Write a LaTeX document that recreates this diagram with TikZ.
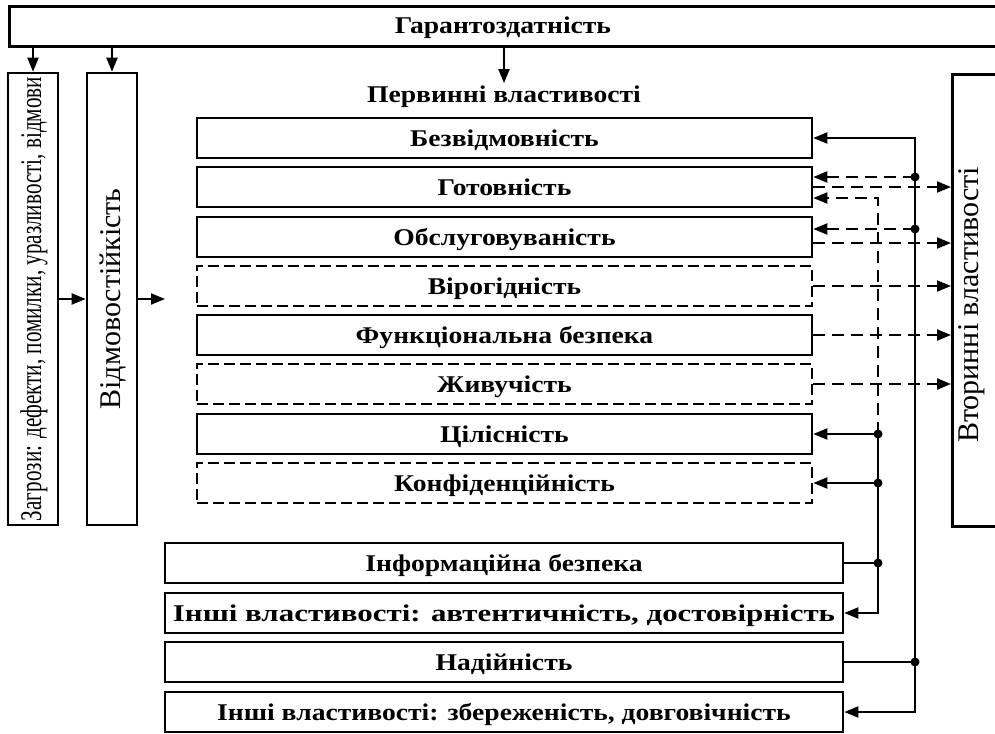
\documentclass[tikz,border=0pt]{standalone}
\usepackage{fontspec}
\usepackage{graphicx}
\setmainfont{Liberation Serif}
\newfontfamily\bt{Liberation Serif}[FakeStretch=1.15]
\usetikzlibrary{arrows.meta,calc}
\begin{document}
\begin{tikzpicture}[x=0.5pt,y=-0.5pt,
  frame/.style={draw,line width=1.3pt,inner sep=0pt},
  box/.style={frame,minimum height=20pt,text height=8.5pt,text depth=-0.5pt,font=\bt\bfseries\fontsize{12pt}{14pt}\selectfont},
  midbox/.style={box,minimum width=307.5pt},
  lowbox/.style={box,minimum width=339pt},
  dbox/.style={dash pattern=on 5.5pt off 2.5pt},
  lbl/.style={font=\bt\bfseries\fontsize{12pt}{14pt}\selectfont,inner sep=1pt,text height=8.5pt,text depth=-0.5pt},
  vlbl/.style={rotate=90,inner sep=0pt,font=\fontsize{15pt}{18pt}\selectfont},
  line/.style={line width=1pt},
  conn/.style={line,-{Triangle[length=7pt,width=5.5pt]}},
  dconn/.style={conn,dash pattern=on 6pt off 3.5pt},
  dot/.style={circle,fill,inner sep=0pt,minimum size=4.5pt}]
\useasboundingbox (0,0) rectangle (995,733);
\clip (0,0) rectangle (995,733);

% top
\node[frame,anchor=north west,minimum width=505pt,minimum height=20pt] (top) at (8,5) {};
\node[lbl] (topt) at (503,25) {Гарантоздатність};

% left boxes
\node[frame,minimum width=25pt,minimum height=226pt] (thr) at (33,299) {};
\node[vlbl] (thrt) at (34,299) {\resizebox{222pt}{\height}{\fontsize{15pt}{18pt}\selectfont Загрози: дефекти, помилки, уразливості, відмови}};
\node[frame,minimum width=25pt,minimum height=226pt] (ft) at (112,299) {};
\node[vlbl] (ftt) at (113,299) {Відмовостійкість};
\coordinate (fe) at (165,299);

% primary
\node[lbl] (prim) at (504,94) {Первинні властивості};
\node[midbox] (b1) at (504.5,138) {Безвідмовність};
\node[midbox] (b2) at (504.5,187) {Готовність};
\node[midbox] (b3) at (504.5,237) {Обслуговуваність};
\node[midbox,dbox] (b4) at (504.5,286) {Вірогідність};
\node[midbox] (b5) at (504.5,335) {Функціональна безпека};
\node[midbox,dbox] (b6) at (504.5,384) {Живучість};
\node[midbox] (b7) at (504.5,434) {Цілісність};
\node[midbox,dbox] (b8) at (504.5,483) {Конфіденційність};

% lower
\node[lowbox] (k1) at (504,563) {Інформаційна безпека};
\node[lowbox] (k2) at (504,613) {\scalebox{1.12}[1]{Інші властивості: автентичність, достовірність}};
\node[lowbox] (k3) at (504,662) {Надійність};
\node[lowbox] (k4) at (504,712) {Інші властивості: збереженість, довговічність};

% secondary
\node[frame,anchor=north west,minimum width=40pt,minimum height=226pt] (sec) at (951,73) {};
\node[vlbl] (sect) at (972,305) {Вторинні властивості};

% dots
\node[dot] (dA1) at (915,177) {};
\node[dot] (dA2) at (915,229) {};
\node[dot] (dA3) at (915,662) {};
\node[dot] (dB1) at (878,434) {};
\node[dot] (dB2) at (878,483) {};
\node[dot] (dB3) at (878,563) {};

\coordinate (i2) at ([yshift=-5.5pt]b2.east);
\coordinate (o3) at ([yshift=-3pt]b3.east);

% left connectors
\draw[conn] (top.south -| thr.north) -- (thr.north);
\draw[conn] (top.south -| ft.north) -- (ft.north);
\draw[conn] (top.south -| prim.north) -- (prim.north);
\draw[conn] (thr.east) -- (ft.west);
\draw[conn] (ft.east) -- (fe);

% right connectors
\draw[conn] (dA3.center) |- (b1.east);
\draw[conn] (dA3.center) |- (k4.east);
\draw[line] (k3.east) -- (dA3.center);
\draw[dconn] (dA1.center) -- (dA1 -| b2.east);
\draw[dconn] (dA2.center) -- (dA2 -| b3.east);
\draw[dconn] (b2.east) -- (b2.east -| sec.west);
\draw[dconn] (o3) -- (o3 -| sec.west);
\draw[dconn] (b4.east) -- (b4.east -| sec.west);
\draw[dconn] (b5.east) -- (b5.east -| sec.west);
\draw[dconn] (b6.east) -- (b6.east -| sec.west);
\draw[dconn] (dB1.center) |- (i2);
\draw[conn] (dB1.center) -- (b7.east);
\draw[conn] (dB2.center) -- (b8.east);
\draw[line] (dB3.center) -- (dB1.center);
\draw[line] (k1.east) -- (dB3.center);
\draw[conn] (dB3.center) |- (k2.east);
\end{tikzpicture}
\end{document}
